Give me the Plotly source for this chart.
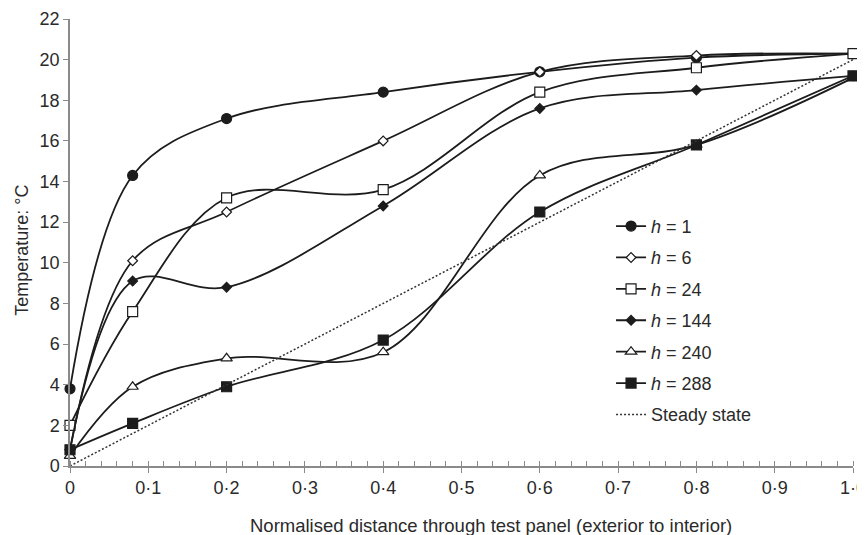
import plotly.graph_objects as go

x_pos = [0, 0.08, 0.2, 0.4, 0.6, 0.8, 1.0]
h1 = [3.8, 14.3, 17.1, 18.4, 19.4, 20.1, 20.3]
h6 = [0.8, 10.1, 12.5, 16.0, 19.4, 20.2, 20.3]
h24 = [2.0, 7.6, 13.2, 13.6, 18.4, 19.6, 20.3]
h144 = [0.8, 9.1, 8.8, 12.8, 17.6, 18.5, 19.2]
h240 = [0.5, 3.9, 5.3, 5.6, 14.3, 15.8, 19.1]
h288 = [0.8, 2.1, 3.9, 6.2, 12.5, 15.8, 19.2]
steady_x = [0, 1.0]
steady_y = [0, 20.0]

x_tickvals = [0, 0.1, 0.2, 0.3, 0.4, 0.5, 0.6, 0.7, 0.8, 0.9, 1.0]
x_ticktext = ["0", "0·1", "0·2", "0·3", "0·4", "0·5", "0·6", "0·7", "0·8", "0·9", "1·0"]
y_tickvals = [0, 2, 4, 6, 8, 10, 12, 14, 16, 18, 20, 22]

x_title = "Normalised distance through test panel (exterior to interior)"
y_title = "Temperature: °C"

line_col = "#1c1c1c"
series = [
    ("<i>h</i> = 1", h1, "circle", 10, False),
    ("<i>h</i> = 6", h6, "diamond", 7.5, True),
    ("<i>h</i> = 24", h24, "square", 10, True),
    ("<i>h</i> = 144", h144, "diamond", 7.5, False),
    ("<i>h</i> = 240", h240, "triangle-up", 10, True),
    ("<i>h</i> = 288", h288, "square", 10, False),
]

fig = go.Figure()
for i, (name, ys, sym, size, open_) in enumerate(series):
    fig.add_trace(go.Scatter(
        x=x_pos, y=ys, name=name, mode="lines+markers",
        line=dict(color=line_col, width=1.8, shape="spline", smoothing=1.0),
        marker=dict(symbol=sym, size=size,
                    color="white" if open_ else line_col,
                    line=dict(color=line_col, width=1.2)),
        legendgroup=str(i), cliponaxis=False,
    ))

fig.add_trace(go.Scatter(
    x=steady_x, y=steady_y, name="Steady state", mode="lines",
    line=dict(color="#333333", width=1.5, dash="2px,2px"),
    legendgroup="ss", cliponaxis=False,
))

axis_col = "#8a8a8a"
font_col = "#2a2a2a"
fig.update_layout(
    width=857, height=527,
    margin=dict(l=62, r=12, t=11, b=69, autoexpand=False),
    paper_bgcolor="white", plot_bgcolor="white",
    font=dict(family="Liberation Sans, Arial, sans-serif", size=18, color=font_col),
    showlegend=True,
    legend=dict(x=0.691, y=0.5775, xanchor="left", yanchor="top",
                bgcolor="rgba(0,0,0,0)", tracegroupgap=5,
                font=dict(size=18, color=font_col), itemwidth=30),
    xaxis=dict(
        range=[0, 1.0], tickvals=x_tickvals, ticktext=x_ticktext,
        showline=True, linecolor=axis_col, linewidth=1.5,
        ticks="outside", ticklen=5, tickcolor=axis_col, tickwidth=1.2,
        minor=dict(dtick=0.02, ticks="inside", ticklen=5, tickcolor=axis_col, tickwidth=1, showgrid=False),
        showgrid=False, zeroline=False, automargin=False,
        ticklabeloverflow="allow",
        tickfont=dict(size=18),
    ),
    xaxis2=dict(
        range=[0, 1.0], overlaying="x", anchor="y", side="bottom",
        tickvals=x_tickvals, showticklabels=False,
        ticks="inside", ticklen=5, tickcolor=axis_col, tickwidth=1.2,
        showline=False, showgrid=False, zeroline=False, automargin=False,
    ),
    yaxis=dict(
        range=[0, 22], tickvals=y_tickvals,
        showline=True, linecolor=axis_col, linewidth=1.5,
        ticks="outside", ticklen=5, tickcolor=axis_col, tickwidth=1.2,
        showgrid=False, zeroline=False, automargin=False,
        tickfont=dict(size=18),
    ),
    annotations=[
        dict(text=x_title, xref="paper", yref="paper", x=0.538, y=-0.132,
             xanchor="center", yanchor="middle", showarrow=False,
             font=dict(size=18.5, color=font_col)),
        dict(text=y_title, xref="paper", yref="paper", x=-0.0617, y=0.483,
             xanchor="center", yanchor="middle", showarrow=False, textangle=-90,
             font=dict(size=18, color=font_col)),
    ],
)

# invisible trace so the overlay axis draws the upper half of the major ticks
fig.add_trace(go.Scatter(x=[0, 1.0], y=[None, None], xaxis="x2", showlegend=False,
                         hoverinfo="skip", mode="lines"))

fig.write_html("out.html")
